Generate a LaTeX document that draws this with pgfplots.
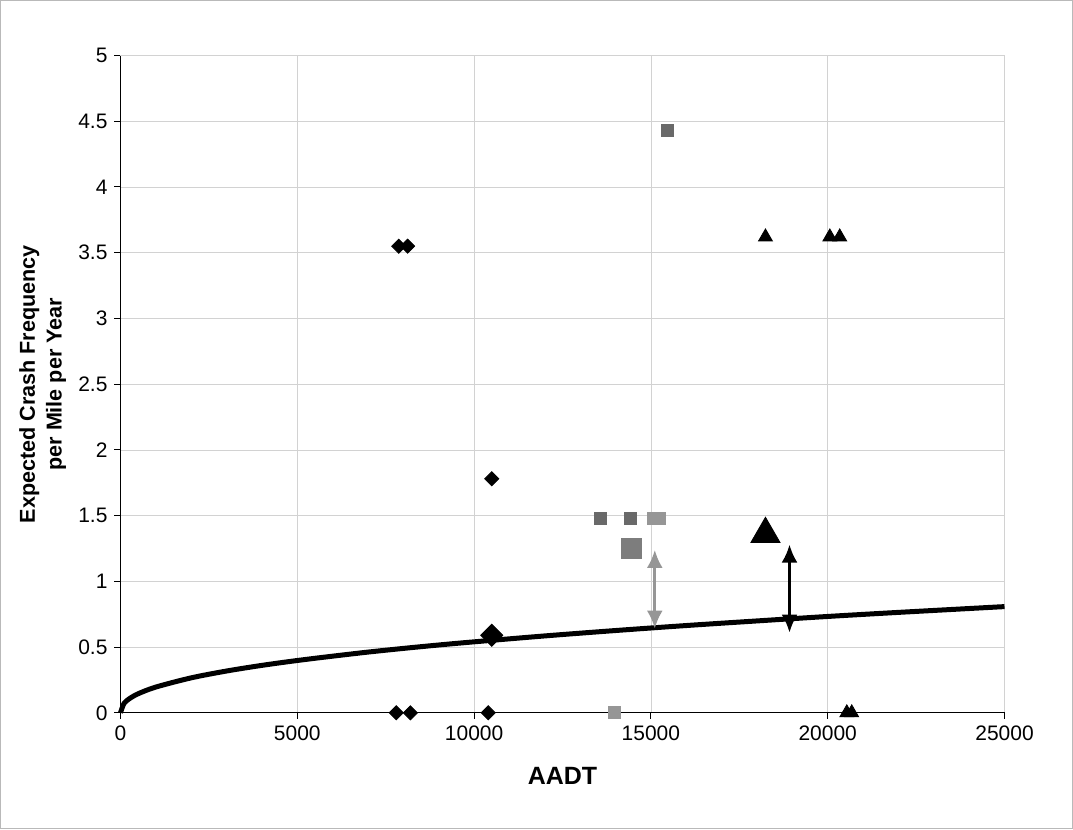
\documentclass[border=0pt]{standalone}
\usepackage{pgfplots}
\pgfplotsset{compat=1.18}
\usetikzlibrary{arrows.meta}
\usepackage{fontspec}
\setmainfont{Liberation Sans}

\definecolor{sqdark}{RGB}{105,105,105}
\definecolor{sqmid}{RGB}{125,125,125}
\definecolor{sqlight}{RGB}{150,150,150}
\definecolor{arrowgray}{RGB}{150,150,150}

\begin{document}
\begin{tikzpicture}
  \begin{axis}[
      scale only axis,
      width=442.5pt,
      height=329pt,
      xmin=0, xmax=25000,
      ymin=0, ymax=5,
      xtick={0,5000,10000,15000,20000,25000},
      ytick={0,0.5,1,1.5,2,2.5,3,3.5,4,4.5,5},
      /pgf/number format/1000 sep={},
      /pgf/number format/assume math mode=true,
      scaled x ticks=false,
      tick label style={font=\fontsize{10.5}{12}\selectfont},
      tick align=outside,
      major tick length=3pt,
      axis x line*=bottom,
      axis y line*=left,
      axis line style={black, line width=0.6pt},
      tick style={black, line width=0.5pt},
      grid=major,
      grid style={gray!35, line width=0.4pt},
      xlabel={AADT},
      xlabel style={at={(axis description cs:0.5,-0.096)}, anchor=center,
                    font=\bfseries\fontsize{12.5}{14}\selectfont},
      ylabel={Expected Crash Frequency\\per Mile per Year},
      ylabel style={at={(axis description cs:-0.088,0.5)}, anchor=center,
                    align=center, font=\bfseries\fontsize{10.8}{13.5}\selectfont},
      clip=false,
    ]
    % safety performance function
    \addplot[black, line width=2.5pt, no marks, smooth] coordinates {
      (0,0) (100,0.071) (250,0.107) (500,0.145) (1000,0.196) (2000,0.266)
      (3000,0.318) (4000,0.361) (5000,0.398) (6000,0.431) (7000,0.462)
      (8000,0.490) (9000,0.516) (10000,0.540) (12000,0.585) (14000,0.626)
      (16000,0.664) (18000,0.699) (20000,0.733) (22000,0.764) (25000,0.808)
    };
    % diamonds
    \addplot[only marks, mark=square*, mark size=2.5pt, mark options={rotate=45, fill=black, draw=black}]
      coordinates {(7870,3.55) (8120,3.55) (10500,1.78) (7800,0) (8200,0) (10400,0)};
    \addplot[only marks, mark=square*, mark size=3.9pt, mark options={rotate=45, fill=black, draw=black}]
      coordinates {(10500,0.59)};
    % squares
    \addplot[only marks, mark=square*, mark size=3pt, mark options={fill=sqdark, draw=sqdark}]
      coordinates {(15480,4.43) (13580,1.48) (14430,1.48)};
    \addplot[only marks, mark=square*, mark size=3pt, mark options={fill=sqlight, draw=sqlight}]
      coordinates {(15060,1.48) (15230,1.48) (13980,0)};
    \addplot[only marks, mark=square*, mark size=5.2pt, mark options={fill=sqmid, draw=sqmid}]
      coordinates {(14450,1.25)};
    % triangles
    \addplot[only marks, mark=triangle*, mark size=4pt, mark options={fill=black, draw=black}]
      coordinates {(18240,3.62) (20060,3.62) (20340,3.62) (20540,0) (20680,0)};
    \addplot[only marks, mark=triangle*, mark size=8.4pt, mark options={fill=black, draw=black}]
      coordinates {(18240,1.36)};
    % arrows
    \addplot[arrowgray, line width=1.6pt, -{Latex[length=9pt,width=8pt]}, no marks]
      coordinates {(15110,0.95) (15110,1.24)};
    \addplot[arrowgray, line width=1.6pt, -{Latex[length=9pt,width=8pt]}, no marks]
      coordinates {(15110,0.95) (15110,0.64)};
    \addplot[black, line width=1.4pt, -{Latex[length=9pt,width=8pt]}, no marks]
      coordinates {(18920,0.9) (18920,1.28)};
    \addplot[black, line width=1.4pt, -{Latex[length=9pt,width=8pt]}, no marks]
      coordinates {(18920,0.9) (18920,0.61)};
    % chart border
    \draw[gray!55, line width=0.6pt] (rel axis cs:-0.1356,-0.176) rectangle (rel axis cs:1.0768,1.0836);
  \end{axis}
\end{tikzpicture}
\end{document}
